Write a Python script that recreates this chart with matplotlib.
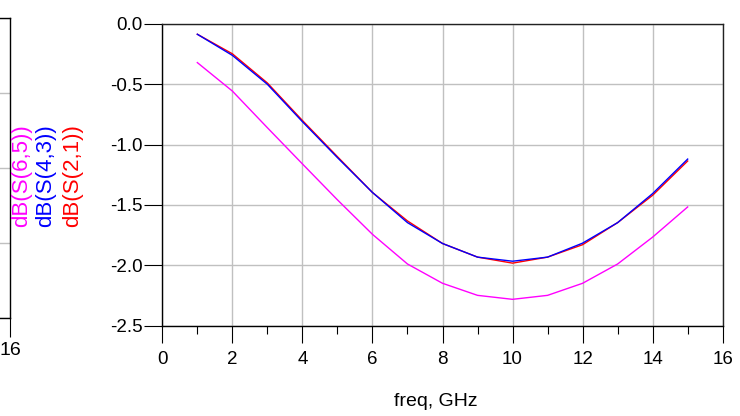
import matplotlib
matplotlib.use("Agg")
import matplotlib.pyplot as plt
from matplotlib.ticker import MultipleLocator, FormatStrFormatter

plt.rcParams['font.family'] = ['Liberation Sans', 'DejaVu Sans']
plt.rcParams['axes.unicode_minus'] = False

# Frequency sweep (GHz) and insertion loss traces (dB)
freq = [1, 2, 3, 4, 5, 6, 7, 8, 9, 10, 11, 12, 13, 14, 15]
s21 = [-0.085, -0.247, -0.489, -0.800, -1.100, -1.397, -1.633, -1.820,
       -1.933, -1.983, -1.933, -1.830, -1.647, -1.420, -1.136]
s43 = [-0.085, -0.260, -0.500, -0.810, -1.108, -1.397, -1.647, -1.820,
       -1.933, -1.967, -1.933, -1.817, -1.647, -1.406, -1.120]
s65 = [-0.320, -0.556, -0.860, -1.160, -1.458, -1.744, -1.990, -2.150,
       -2.250, -2.283, -2.250, -2.150, -1.990, -1.767, -1.517]

labels = ["dB(S(6,5))", "dB(S(4,3))", "dB(S(2,1))"]
colors = ["#ff00ff", "#0000ff", "#ff0000"]

W, H = 740, 416
fig = plt.figure(figsize=(W / 100, H / 100), dpi=100)

def box(x0, y0, x1, y1):
    return [x0 / W, 1 - y1 / H, (x1 - x0) / W, (y1 - y0) / H]

# Neighbouring plot, only its right edge is in view
axl = fig.add_axes(box(-300, 18.3, 10.3, 318))
axl.set_xlim(0, 16)
axl.set_ylim(0, 4)
axl.set_xticks([16])
axl.set_xticklabels(["16"])
axl.set_yticks([0, 1, 2, 3, 4])
axl.set_yticklabels([])
axl.tick_params(axis='y', length=0)
axl.tick_params(axis='x', direction='out', length=13.5, width=0.8,
                pad=4, labelsize=14, colors='black')
axl.grid(axis='y', color='#c0c0c0', linewidth=1.0)
for s in axl.spines.values():
    s.set_color('black')
    s.set_linewidth(1.0)

# Main plot
ax = fig.add_axes(box(162.3, 24, 722.7, 325.5))
ax.plot(freq, s21, color=colors[2], linewidth=1.0)
ax.plot(freq, s43, color=colors[1], linewidth=1.0)
ax.plot(freq, s65, color=colors[0], linewidth=1.0)

ax.set_xlim(0, 16)
ax.set_ylim(-2.5, 0.0)
ax.xaxis.set_major_locator(MultipleLocator(2))
ax.xaxis.set_minor_locator(MultipleLocator(1))
ax.yaxis.set_major_locator(MultipleLocator(0.5))
ax.yaxis.set_major_formatter(FormatStrFormatter('%.1f'))

ax.tick_params(axis='x', which='major', direction='out', length=12, width=0.8,
               pad=6, labelsize=13.5)
ax.tick_params(axis='x', which='minor', direction='out', length=6, width=0.8)
ax.tick_params(axis='y', which='major', direction='out', length=13, width=0.8,
               pad=1, labelsize=13.5)
ax.grid(which='major', color='#c0c0c0', linewidth=1.0)
for s in ax.spines.values():
    s.set_color('black')
    s.set_linewidth(1.0)
ax.spines['top'].set_color('#222222')
ax.spines['right'].set_color('#222222')

ax.set_xlabel("freq, GHz", fontsize=14)
ax.xaxis.set_label_coords((436 - 162.3) / (722.7 - 162.3), -(402 - 325.5) / (325.5 - 24))
ax.xaxis.label.set_va('center')

# Trace names stacked as rotated labels to the left of the axis
for xpix, lab, col in zip([22, 46, 73], labels, colors):
    fig.text(xpix / W, 1 - 176 / H, lab, rotation=90, color=col,
             fontsize=16, ha='center', va='center')

fig.savefig("out.png", dpi=100)
